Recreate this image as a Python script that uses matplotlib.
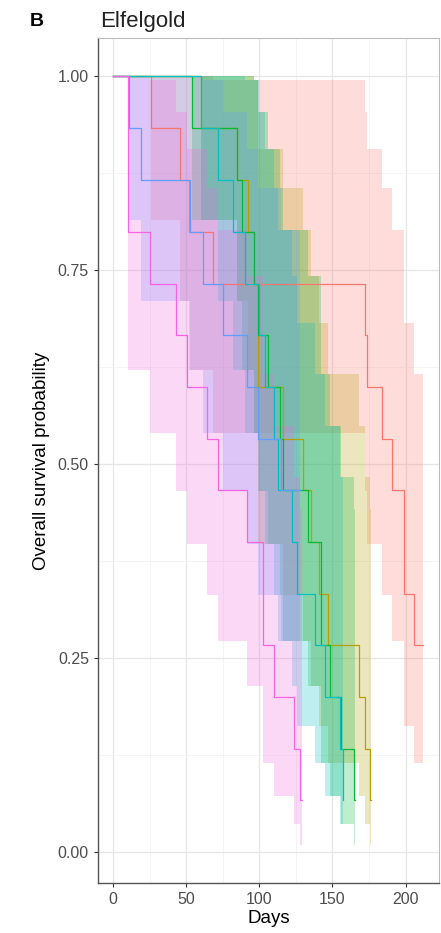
import matplotlib.pyplot as plt
import numpy as np

plt.rcParams['font.family'] = ['Liberation Sans', 'DejaVu Sans']

# 各组 Kaplan-Meier 阶梯（天数, 生存率, 置信区间下限, 上限）
red_days = [0, 26, 46, 52, 68, 172, 173.5, 184, 190.5, 199, 206, 212]
red_surv = [1.0, 0.933, 0.867, 0.8, 0.733, 0.667, 0.6, 0.533, 0.467, 0.333, 0.267, 0.267]
red_lo = [1.0, 0.815, 0.711, 0.621, 0.541, 0.466, 0.397, 0.332, 0.272, 0.163, 0.115, 0.115]
red_hi = [1.0, 1.0, 1.0, 1.0, 0.995, 0.954, 0.907, 0.856, 0.802, 0.682, 0.617, 0.617]

olive_days = [0, 60, 85, 92, 96, 99, 116, 130, 135, 141, 147, 168, 172, 175.5, 176.5]
olive_surv = [1.0, 0.933, 0.867, 0.8, 0.733, 0.6, 0.533, 0.467, 0.4, 0.333, 0.267, 0.2, 0.133, 0.067, 0.067]
olive_lo = [1.0, 0.815, 0.711, 0.621, 0.541, 0.397, 0.332, 0.272, 0.215, 0.163, 0.115, 0.073, 0.037, 0.010, 0.010]
olive_hi = [1.0, 1.0, 1.0, 1.0, 0.995, 0.907, 0.856, 0.802, 0.743, 0.682, 0.617, 0.550, 0.484, 0.443, 0.443]

green_days = [0, 54, 85, 88, 96, 99, 106, 114, 116, 133, 142, 148, 156, 165, 165.5]
green_surv = [1.0, 0.933, 0.867, 0.8, 0.733, 0.667, 0.6, 0.533, 0.467, 0.4, 0.267, 0.2, 0.133, 0.067, 0.067]
green_lo = [1.0, 0.815, 0.711, 0.621, 0.541, 0.466, 0.397, 0.332, 0.272, 0.215, 0.115, 0.073, 0.037, 0.010, 0.010]
green_hi = [1.0, 1.0, 1.0, 1.0, 0.995, 0.954, 0.907, 0.856, 0.802, 0.743, 0.617, 0.550, 0.484, 0.443, 0.443]

cyan_days = [0, 60, 72, 82, 90, 100, 104, 110, 113, 122, 126, 138, 145, 155, 157, 157.5]
cyan_surv = [1.0, 0.933, 0.867, 0.8, 0.733, 0.667, 0.6, 0.533, 0.467, 0.4, 0.333, 0.267, 0.2, 0.133, 0.067, 0.067]
cyan_lo = [1.0, 0.815, 0.711, 0.621, 0.541, 0.466, 0.397, 0.332, 0.272, 0.215, 0.163, 0.115, 0.073, 0.037, 0.010, 0.010]
cyan_hi = [1.0, 1.0, 1.0, 1.0, 0.995, 0.954, 0.907, 0.856, 0.802, 0.743, 0.682, 0.617, 0.550, 0.484, 0.443, 0.443]

blue_days = [0, 11, 19, 52.5, 61.5, 75, 91.5, 99, 115, 128]
blue_surv = [1.0, 0.933, 0.867, 0.8, 0.733, 0.667, 0.6, 0.533, 0.467, 0.467]
blue_lo = [1.0, 0.815, 0.711, 0.621, 0.541, 0.466, 0.397, 0.332, 0.272, 0.272]
blue_hi = [1.0, 1.0, 1.0, 1.0, 0.995, 0.954, 0.907, 0.856, 0.802, 0.802]

magenta_days = [0, 10, 25, 43, 50.5, 64, 72, 91.5, 102.5, 110, 124, 128, 129]
magenta_surv = [1.0, 0.8, 0.733, 0.667, 0.6, 0.533, 0.467, 0.4, 0.267, 0.2, 0.133, 0.067, 0.067]
magenta_lo = [1.0, 0.621, 0.541, 0.466, 0.397, 0.332, 0.272, 0.215, 0.115, 0.073, 0.037, 0.010, 0.010]
magenta_hi = [1.0, 1.0, 0.995, 0.954, 0.907, 0.856, 0.802, 0.743, 0.617, 0.550, 0.484, 0.443, 0.443]

groups = [
    (red_days, red_surv, red_lo, red_hi, '#F8766D'),
    (olive_days, olive_surv, olive_lo, olive_hi, '#B79F00'),
    (green_days, green_surv, green_lo, green_hi, '#00BA38'),
    (cyan_days, cyan_surv, cyan_lo, cyan_hi, '#00BFC4'),
    (blue_days, blue_surv, blue_lo, blue_hi, '#619CFF'),
    (magenta_days, magenta_surv, magenta_lo, magenta_hi, '#F564E3'),
]

x_ticks = [0, 50, 100, 150, 200]
y_ticks = [0.0, 0.25, 0.5, 0.75, 1.0]
y_tick_labels = ['0.00', '0.25', '0.50', '0.75', '1.00']

fig = plt.figure(figsize=(4.41, 9.33), dpi=100)
ax = fig.add_axes([98 / 441, 1 - 883 / 933, 341 / 441, 845 / 933])

# 网格
ax.set_xticks([-25, 25, 75, 125, 175, 225], minor=True)
ax.set_yticks([0.125, 0.375, 0.625, 0.875], minor=True)
ax.grid(True, which='major', color='#E6E6E6', linewidth=0.9)
ax.grid(True, which='minor', color='#F2F2F2', linewidth=0.6)
ax.set_axisbelow(True)

# 置信带
for days, surv, lo, hi, col in groups:
    ax.fill_between(days, lo, hi, step='post', color=col, alpha=0.25, linewidth=0)

# 生存曲线
for days, surv, lo, hi, col in groups:
    ax.step(days, surv, where='post', color=col, linewidth=0.9)

ax.set_xlim(-10.4, 222.9)
ax.set_ylim(-0.0395, 1.0495)
ax.set_xticks(x_ticks)
ax.set_yticks(y_ticks)
ax.set_yticklabels(y_tick_labels)
ax.tick_params(which='major', length=3, width=0.8, color='#333333',
               labelsize=11.5, labelcolor='#4D4D4D')
ax.tick_params(which='minor', length=0)

for side in ['left', 'bottom']:
    ax.spines[side].set_color('#555555')
    ax.spines[side].set_linewidth(1.0)
for side in ['top', 'right']:
    ax.spines[side].set_color('#BBBBBB')
    ax.spines[side].set_linewidth(0.8)

ax.set_xlabel('Days', fontsize=13.5, labelpad=2)
ax.set_ylabel('Overall survival probability', fontsize=13.5, labelpad=6)

fig.text(100 / 441, 1 - 22 / 933, 'Elfelgold', fontsize=16, va='center', ha='left', color='#222222')
fig.text(30 / 441, 1 - 22 / 933, 'B', fontsize=14, fontweight='bold', va='center', ha='left')

plt.savefig('out.png', dpi=100)
plt.close()
